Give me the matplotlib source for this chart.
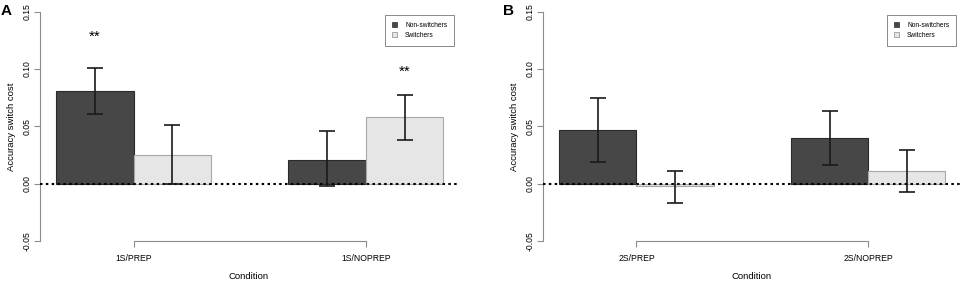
import numpy as np
import matplotlib.pyplot as plt
from matplotlib.patches import Patch

plt.rcParams['font.family'] = ['Liberation Sans', 'DejaVu Sans']

# ==================================================
# DATA
# ==================================================

groups = ['Non-switchers', 'Switchers']

conds_a = ['1S/PREP', '1S/NOPREP']
nonsw_a = [0.081, 0.021]
nonsw_a_lo = [0.0605, -0.002]
nonsw_a_hi = [0.101, 0.0456]
sw_a = [0.0253, 0.0579]
sw_a_lo = [0.0, 0.0384]
sw_a_hi = [0.0509, 0.0777]
stars_a = ['**', '**']
stars_a_y = [0.128, 0.0975]

conds_b = ['2S/PREP', '2S/NOPREP']
nonsw_b = [0.0468, 0.0401]
nonsw_b_lo = [0.0192, 0.0166]
nonsw_b_hi = [0.0744, 0.0631]
sw_b = [-0.002, 0.0107]
sw_b_lo = [-0.0166, -0.007]
sw_b_hi = [0.0113, 0.029]

yticks = [-0.05, 0.00, 0.05, 0.10, 0.15]

dark = '#474747'
light = '#e6e6e6'
axis_col = '#8c8c8c'


def panel(ax, conds, nonsw, nonsw_lo, nonsw_hi, sw, sw_lo, sw_hi, letter):
    # bars: group centres at 1 and 4, bars side by side
    centers = np.array([1.0, 4.0])
    x_ns = centers - 0.5
    x_sw = centers + 0.5

    ax.bar(x_ns, nonsw, width=1.0, color=dark, edgecolor='#2a2a2a', linewidth=0.8, zorder=2)
    ax.bar(x_sw, sw, width=1.0, color=light, edgecolor='#a8a8a8', linewidth=0.8, zorder=2)

    # error bars (CI)
    ns = np.array(nonsw)
    s = np.array(sw)
    ax.errorbar(x_ns, ns, yerr=[ns - np.array(nonsw_lo), np.array(nonsw_hi) - ns],
                fmt='none', ecolor='#1a1a1a', elinewidth=1.2, capsize=6, capthick=1.2, zorder=4)
    ax.errorbar(x_sw, s, yerr=[s - np.array(sw_lo), np.array(sw_hi) - s],
                fmt='none', ecolor='#1a1a1a', elinewidth=1.2, capsize=6, capthick=1.2, zorder=4)

    # zero line
    ax.axhline(0, color='black', linestyle=(0, (1.2, 1.6)), linewidth=1.5, zorder=3)

    ax.set_xlim(-0.21, 5.19)
    ax.set_ylim(-0.05, 0.15)

    ax.spines['top'].set_visible(False)
    ax.spines['right'].set_visible(False)
    ax.spines['left'].set_color(axis_col)
    ax.spines['bottom'].set_color(axis_col)
    ax.spines['left'].set_bounds(-0.05, 0.15)
    ax.spines['bottom'].set_bounds(1, 4)

    ax.set_yticks(yticks)
    ax.set_yticklabels(['%.2f' % v for v in yticks], rotation=90, va='center', fontsize=6.2)
    ax.set_xticks(centers)
    ax.set_xticklabels(conds, fontsize=6.2)
    ax.tick_params(axis='both', color=axis_col, length=4, width=0.8, pad=2)
    ax.tick_params(axis='x', pad=5)

    ax.set_ylabel('Accuracy switch cost', fontsize=6.8, labelpad=5)
    ax.set_xlabel('Condition', fontsize=6.8, labelpad=7)

    handles = [Patch(facecolor=dark, edgecolor='#2a2a2a', linewidth=0.5),
               Patch(facecolor=light, edgecolor='#888888', linewidth=0.5)]
    leg = ax.legend(handles, groups, loc='upper right', bbox_to_anchor=(0.99, 0.986),
                    borderaxespad=0, fontsize=4.8, frameon=True, fancybox=False,
                    handlelength=0.8, handleheight=0.8, handletextpad=1.2,
                    borderpad=1.0, labelspacing=0.5)
    leg.get_frame().set_edgecolor('#555555')
    leg.get_frame().set_linewidth(0.6)

    ax.figure.text(ax.get_position().x0 - 0.041, 0.985, letter, fontsize=11,
                   fontweight='bold', va='top', ha='left')


fig = plt.figure(figsize=(9.64, 2.83), dpi=100)

ax_a = fig.add_axes([0.0415, 0.1484, 0.4336, 0.8103])
ax_b = fig.add_axes([0.5633, 0.1484, 0.4326, 0.8103])

panel(ax_a, conds_a, nonsw_a, nonsw_a_lo, nonsw_a_hi, sw_a, sw_a_lo, sw_a_hi, 'A')
panel(ax_b, conds_b, nonsw_b, nonsw_b_lo, nonsw_b_hi, sw_b, sw_b_lo, sw_b_hi, 'B')

# significance stars on panel A
for xpos, ypos, txt in zip([0.5, 4.5], stars_a_y, stars_a):
    ax_a.text(xpos, ypos, txt, ha='center', va='center', fontsize=11)

fig.savefig('out.png', dpi=100)
